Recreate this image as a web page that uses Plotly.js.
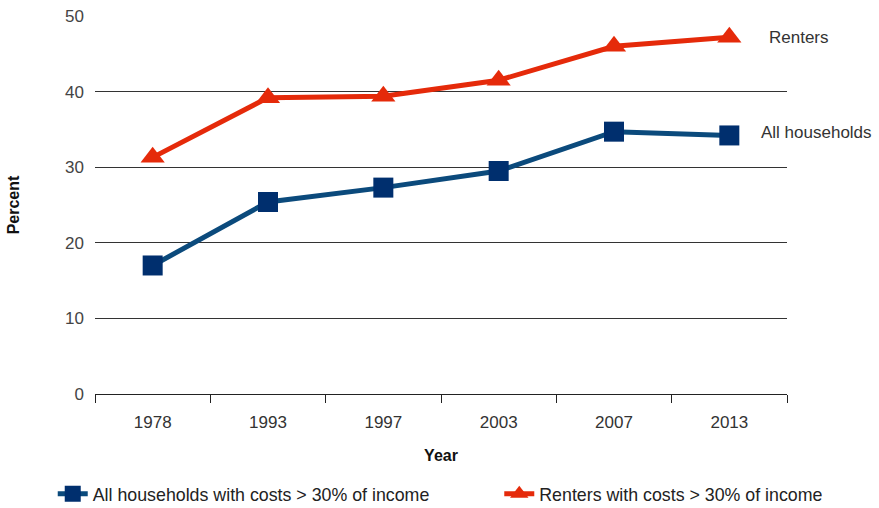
<!DOCTYPE html>
<html>
<head>
<meta charset="utf-8">
<script src="https://cdn.plot.ly/plotly-3.0.1.min.js"></script>
<style>
  html, body { margin: 0; padding: 0; background: #fff; }
  #chart { width: 879px; height: 508px; }
</style>
</head>
<body>
<div id="chart"></div>
<script>
// Share of households spending more than 30% of income on housing
const years = ['1978', '1993', '1997', '2003', '2007', '2013'];
const allHouseholds = [17.0, 25.4, 27.3, 29.5, 34.7, 34.2];
const renters = [31.3, 39.2, 39.4, 41.5, 46.0, 47.2];
const yTicks = [0, 10, 20, 30, 40, 50];

const font = 'Liberation Sans, Arial, sans-serif';

const traces = [
  {
    x: years, y: allHouseholds,
    name: 'All households with costs > 30% of income',
    type: 'scatter', mode: 'lines+markers',
    line: { color: '#0b4a7c', width: 5 },
    marker: { symbol: 'square', size: 20, color: '#002f6e' },
    legend: 'legend'
  },
  {
    x: years, y: renters,
    name: 'Renters with costs > 30% of income',
    type: 'scatter', mode: 'lines+markers',
    line: { color: '#e52a0a', width: 5 },
    marker: { symbol: 'triangle-up', size: 21, color: '#e52a0a' },
    legend: 'legend2'
  }
];

const legendBase = {
  orientation: 'h',
  xref: 'container', yref: 'container',
  yanchor: 'middle', xanchor: 'left',
  y: 0.027,
  font: { size: 17.8, color: '#222' },
  bgcolor: 'rgba(0,0,0,0)'
};

const layout = {
  width: 879, height: 508,
  margin: { l: 95, r: 92, t: 16, b: 114 },
  paper_bgcolor: '#fff', plot_bgcolor: '#fff',
  font: { family: font, size: 17, color: '#333' },
  showlegend: true,
  xaxis: {
    type: 'category',
    range: [-0.5, 5.5],
    tickson: 'boundaries',
    ticks: 'outside', ticklen: 8, tickcolor: '#222', tickwidth: 1,
    showline: true, linecolor: '#222', linewidth: 1,
    showgrid: false, zeroline: false,
    ticklabelstandoff: 13,
    tickfont: { size: 17, color: '#333' },
    title: { text: '<b>Year</b>', font: { size: 16, color: '#111' }, standoff: 18 }
  },
  yaxis: {
    range: [0, 50],
    tickvals: yTicks,
    showgrid: true, gridcolor: '#333', gridwidth: 1,
    zeroline: false, showline: false,
    ticks: '', ticklabelstandoff: 10,
    tickfont: { size: 17, color: '#444' },
    title: { text: '<b>Percent</b>', font: { size: 16, color: '#111' }, standoff: 41 }
  },
  legend: Object.assign({}, legendBase, { x: 0.06 }),
  legend2: Object.assign({}, legendBase, { x: 0.568 }),
  annotations: [
    {
      x: 1, y: 47.2, xref: 'paper', yref: 'y',
      text: 'Renters', showarrow: false,
      xanchor: 'left', xshift: -20,
      font: { size: 17, color: '#333' }
    },
    {
      x: 1, y: 34.6, xref: 'paper', yref: 'y',
      text: 'All households', showarrow: false,
      xanchor: 'left', xshift: -28,
      font: { size: 17, color: '#333' }
    }
  ]
};

Plotly.newPlot('chart', traces, layout, { displayModeBar: false, staticPlot: true });
</script>
</body>
</html>
